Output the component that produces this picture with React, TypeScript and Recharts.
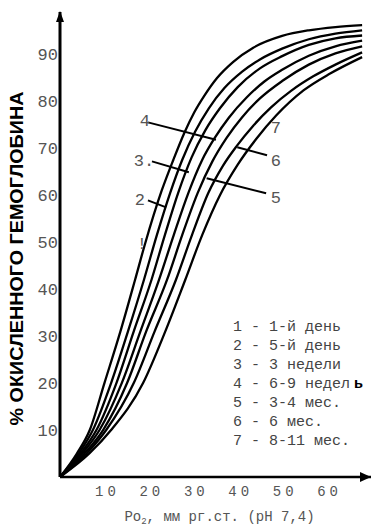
import { LineChart, Line, XAxis, YAxis, Legend, ReferenceLine, ReferenceDot } from "recharts";

// Po2 (мм рт.ст.) vs % HbO2
const curve1 = [[0, 0], [3.8, 5], [6.7, 10], [10, 20], [13.6, 31], [16.9, 42], [19.1, 49.5], [22.9, 61], [25.5, 67.5], [28, 73.3], [30.2, 77.6], [32.5, 81.2], [35.3, 84.9], [39, 88.4], [43.5, 91.4], [50, 93.9], [56, 95.1], [62, 95.8], [68, 96.2]];
const curve2 = [[0, 0], [4.2, 5], [7.4, 10], [11.5, 20], [15.3, 31], [18.9, 42], [21.8, 51.5], [24.8, 60.5], [27.5, 67.5], [30.4, 73.5], [33.5, 78.5], [37, 82.8], [41, 86.3], [45, 88.9], [50, 91.2], [56, 93.2], [62, 94.4], [68, 95.1]];
const curve3 = [[0, 0], [4.6, 5], [8.2, 10], [12.7, 20], [16.6, 31], [20.6, 42], [23.6, 51.5], [26.6, 60.5], [29.6, 68], [32.7, 73.8], [36, 78.5], [40, 83], [45, 87], [50, 89.6], [56, 92], [62, 93.4], [68, 94]];
const curve4 = [[0, 0], [5, 5], [8.9, 10], [13.9, 20], [18.1, 31], [22.3, 42], [25.6, 51.5], [28.9, 60.5], [32, 67.5], [34.9, 72.3], [38, 76.5], [42, 80.8], [46, 84.2], [50, 86.7], [56, 89.7], [62, 91.7], [68, 92.9]];
const curve5 = [[0, 0], [5.5, 5], [9.7, 10], [15.1, 20], [19.4, 31], [24.1, 42], [27.5, 51.5], [31, 60.5], [34.3, 67.2], [37.5, 72.2], [41, 76.6], [45, 80.6], [50, 84.3], [56, 87.8], [62, 90.2], [68, 91.7]];
const curve6 = [[0, 0], [6, 5], [10.4, 10], [16.6, 20], [21.3, 31], [26.1, 42], [29.7, 51.5], [33.4, 60.5], [36.7, 66.3], [39.8, 70.5], [43.5, 74.8], [47.5, 78.7], [52, 82.2], [57, 85.3], [62, 87.8], [68, 90.4]];
const curve7 = [[0, 0], [6.6, 5], [11.5, 10], [18.7, 20], [23.7, 31], [28.2, 42], [32, 51.5], [36, 60], [40, 66.5], [44.2, 72], [48.7, 77], [54.8, 82.3], [60.8, 85.9], [68, 89.4]];

const curves = [curve1, curve2, curve3, curve4, curve5, curve6, curve7];
const ageGroups = ["1 - 1-й день", "2 - 5-й день", "3 - 3 недели", "4 - 6-9 недель", "5 - 3-4 мес.", "6 - 6 мес.", "7 - 8-11 мес."];

const po2Ticks = [10, 20, 30, 40, 50, 60];
const satTicks = [10, 20, 30, 40, 50, 60, 70, 80, 90];

// leader lines to the curve numbers (data units)
const leaders = [
  [[19.8, 75.5], [35.1, 71.8]],
  [[20.7, 67.2], [29.0, 64.9]],
  [[19.8, 58.9], [23.9, 57.4]],
  [[39.9, 70.2], [46.6, 68.5]],
  [[33.0, 63.6], [46.4, 60.4]],
];
const curveNotes = [
  { text: "4", x: 19.1, y: 75.7 },
  { text: "3.", x: 18.9, y: 67.2 },
  { text: "2", x: 18.0, y: 58.9 },
  { text: "!", x: 18.4, y: 49.4 },
  { text: "7", x: 48.6, y: 74.3 },
  { text: "6", x: 48.6, y: 67.2 },
  { text: "5", x: 48.6, y: 59.4 },
];

const MONO = "'Liberation Mono', 'DejaVu Sans Mono', monospace";

const renderLegend = (props: any) => (
  <div style={{ fontFamily: MONO, fontSize: 15, lineHeight: "19px", color: "#444", whiteSpace: "pre" }}>
    {props.payload.map((entry: any) => {
      const v: string = entry.value;
      if (v.endsWith("недель")) {
        return (
          <div key={v}>
            {v.slice(0, -1)}
            <b style={{ color: "#000", marginLeft: 4 }}>ь</b>
          </div>
        );
      }
      return <div key={v}>{v}</div>;
    })}
  </div>
);

const App = () => {
  return (
    <div style={{ position: "absolute", left: 0, top: 0, width: 375, height: 526, background: "#fff" }}>
      <LineChart width={375} height={526} margin={{ top: 12, right: 4, bottom: 0, left: 0 }}>
        <XAxis
          type="number"
          dataKey="x"
          domain={[0, 70]}
          ticks={po2Ticks}
          allowDataOverflow
          height={49}
          axisLine={{ stroke: "#000", strokeWidth: 2.5 }}
          tickLine={false}
          tickSize={0}
          tickMargin={9}
          tick={{ fill: "#555", fontSize: 14, fontFamily: MONO, letterSpacing: 4, dx: 3 }}
          label={{
            content: (p: any) => {
              const vb = p.viewBox;
              return (
                <text x={vb.x + vb.width / 2 + 4} y={vb.y + 44} textAnchor="middle" fill="#555" fontSize={14} fontFamily={MONO}>
                  Po<tspan fontSize={9} dy={3}>2</tspan>
                  <tspan dy={-3}>, мм рг.ст. (pH 7,4)</tspan>
                </text>
              );
            },
          }}
        />
        <YAxis
          type="number"
          domain={[0, 99]}
          ticks={satTicks}
          allowDataOverflow
          width={60}
          axisLine={{ stroke: "#000", strokeWidth: 3 }}
          tickLine={false}
          tickSize={0}
          tickMargin={2}
          tick={{ fill: "#555", fontSize: 17, fontFamily: MONO }}
          label={{
            content: (p: any) => {
              const vb = p.viewBox;
              const cx = 17;
              const cy = vb.y + vb.height / 2 + 14;
              return (
                <text
                  x={cx}
                  y={cy}
                  transform={`rotate(-90 ${cx} ${cy})`}
                  textAnchor="middle"
                  dominantBaseline="central"
                  fill="#000"
                  fontSize={18}
                  fontWeight="bold"
                  fontFamily="'Liberation Sans', Arial, sans-serif"
                  textLength={334}
                  lengthAdjust="spacingAndGlyphs"
                >
                  % ОКИСЛЕННОГО ГЕМОГЛОБИНА
                </text>
              );
            },
          }}
        />
        <Legend layout="vertical" align="center" verticalAlign="middle" content={renderLegend} wrapperStyle={{ left: 233, top: 318, width: 142 }} />
        {curves.map((c, i) => (
          <Line
            key={ageGroups[i]}
            name={ageGroups[i]}
            data={c.map(([x, y]) => ({ x, y }))}
            dataKey="y"
            type="monotone"
            stroke="#000"
            strokeWidth={2.3}
            dot={false}
            activeDot={false}
            isAnimationActive={false}
          />
        ))}
        {leaders.map((s, i) => (
          <ReferenceLine
            key={`ld-${i}`}
            segment={[{ x: s[0][0], y: s[0][1] }, { x: s[1][0], y: s[1][1] }]}
            stroke="#000"
            strokeWidth={2}
            ifOverflow="visible"
          />
        ))}
        {curveNotes.map((n) => (
          <ReferenceDot
            key={n.text}
            x={n.x}
            y={n.y}
            ifOverflow="visible"
            shape={(p: any) => (
              <text x={p.cx} y={p.cy} textAnchor="middle" dominantBaseline="central" fill="#555" fontSize={17} fontFamily={MONO}>
                {n.text}
              </text>
            )}
          />
        ))}
        <ReferenceDot
          x={70}
          y={0}
          ifOverflow="visible"
          shape={(p: any) => <path d={`M${p.cx - 11},${p.cy - 5} L${p.cx},${p.cy} L${p.cx - 11},${p.cy + 5} Z`} fill="#000" />}
        />
        <ReferenceDot
          x={0}
          y={99}
          ifOverflow="visible"
          shape={(p: any) => <path d={`M${p.cx - 4},${p.cy + 10} L${p.cx},${p.cy - 1} L${p.cx + 4},${p.cy + 10} Z`} fill="#000" />}
        />
      </LineChart>
    </div>
  );
};

export default App;
